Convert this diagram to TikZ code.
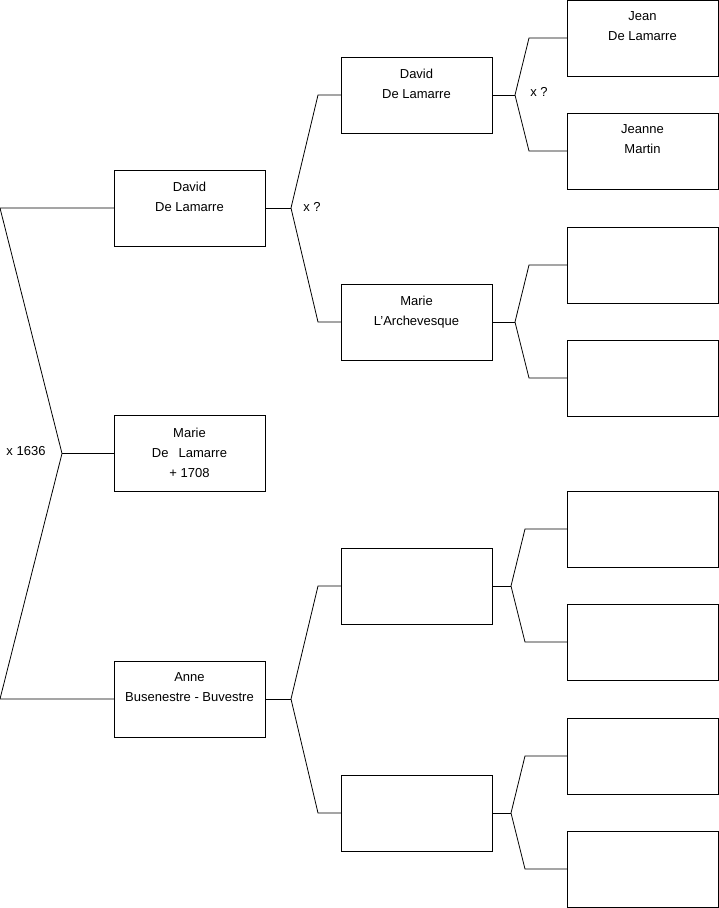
\documentclass[tikz,border=0pt]{standalone}
\usepackage{fontspec}
\setmainfont{Liberation Sans}
\begin{document}
\begin{tikzpicture}[x=1pt,y=-1pt,
  pbox/.style={draw, line width=0.8pt, minimum width=151pt, minimum height=76pt, inner sep=0pt, outer sep=0pt},
  ptext/.style={anchor=north, align=center, inner sep=0pt, font=\fontsize{13}{20}\selectfont},
  plabel/.style={inner sep=0pt, font=\fontsize{13}{14}\selectfont},
  link/.style={line width=0.8pt}]
\useasboundingbox (0,0) rectangle (719,908);
% generation 1
\node[pbox] (g1a) at (189.5,208) {};
\node[pbox] (g1b) at (189.5,453.5) {};
\node[pbox] (g1c) at (189.5,699) {};
% generation 2
\node[pbox] (g2a) at (416.5,95) {};
\node[pbox] (g2b) at (416.5,322) {};
\node[pbox] (g2c) at (416.5,586) {};
\node[pbox] (g2d) at (416.5,813) {};
% generation 3
\node[pbox] (g3a) at (642.5,38) {};
\node[pbox] (g3b) at (642.5,151) {};
\node[pbox] (g3c) at (642.5,265) {};
\node[pbox] (g3d) at (642.5,378) {};
\node[pbox] (g3e) at (642.5,529) {};
\node[pbox] (g3f) at (642.5,642) {};
\node[pbox] (g3g) at (642.5,756) {};
\node[pbox] (g3h) at (642.5,869) {};
% texts
\node[ptext] (t1a) at ([yshift=-11.5pt]g1a.north) {David\\De Lamarre};
\node[ptext] (t1b) at ([yshift=-12.5pt]g1b.north) {Marie\\De\hspace{10pt}Lamarre\\+ 1708};
\node[ptext] (t1c) at ([yshift=-11.5pt]g1c.north) {Anne\\Busenestre - Buvestre};
\node[ptext] (t2a) at ([yshift=-11.5pt]g2a.north) {David\\De Lamarre};
\node[ptext] (t2b) at ([yshift=-11.5pt]g2b.north) {Marie\\L'Archevesque};
\node[ptext] (t3a) at ([yshift=-11.5pt]g3a.north) {Jean\\De Lamarre};
\node[ptext] (t3b) at ([yshift=-11.5pt]g3b.north) {Jeanne\\Martin};
% generation 1 links
\coordinate (r0) at (0,208);
\coordinate (r1) at (62,453.5);
\coordinate (r2) at (0,699);
\draw[link] (g1a.west) -- (r0) -- (r1) -- (r2) -- (g1c.west);
\draw[link] (r1) -- (g1b.west);
\node[plabel] (l0) at (26,451) {x 1636};
% forks generation 1 -> 2
\coordinate (fa) at (291,208);
\coordinate (fa1) at (318,95);
\coordinate (fa2) at (318,322);
\draw[link] (g1a.east) -- (fa);
\draw[link] (g2a.west) -- (fa1) -- (fa) -- (fa2) -- (g2b.west);
\node[plabel] (la) at (312,207) {x ?};
\coordinate (fc) at (291,699);
\coordinate (fc1) at (318,586);
\coordinate (fc2) at (318,813);
\draw[link] (g1c.east) -- (fc);
\draw[link] (g2c.west) -- (fc1) -- (fc) -- (fc2) -- (g2d.west);
% forks generation 2 -> 3
\coordinate (fb) at (515,95);
\coordinate (fb1) at (529,38);
\coordinate (fb2) at (529,151);
\draw[link] (g2a.east) -- (fb);
\draw[link] (g3a.west) -- (fb1) -- (fb) -- (fb2) -- (g3b.west);
\node[plabel] (lb) at (539,92) {x ?};
\coordinate (fd) at (515,322);
\coordinate (fd1) at (529,265);
\coordinate (fd2) at (529,378);
\draw[link] (g2b.east) -- (fd);
\draw[link] (g3c.west) -- (fd1) -- (fd) -- (fd2) -- (g3d.west);
\coordinate (fe) at (511,586);
\coordinate (fe1) at (525,529);
\coordinate (fe2) at (525,642);
\draw[link] (g2c.east) -- (fe);
\draw[link] (g3e.west) -- (fe1) -- (fe) -- (fe2) -- (g3f.west);
\coordinate (ff) at (511,813);
\coordinate (ff1) at (525,756);
\coordinate (ff2) at (525,869);
\draw[link] (g2d.east) -- (ff);
\draw[link] (g3g.west) -- (ff1) -- (ff) -- (ff2) -- (g3h.west);
\end{tikzpicture}
\end{document}
